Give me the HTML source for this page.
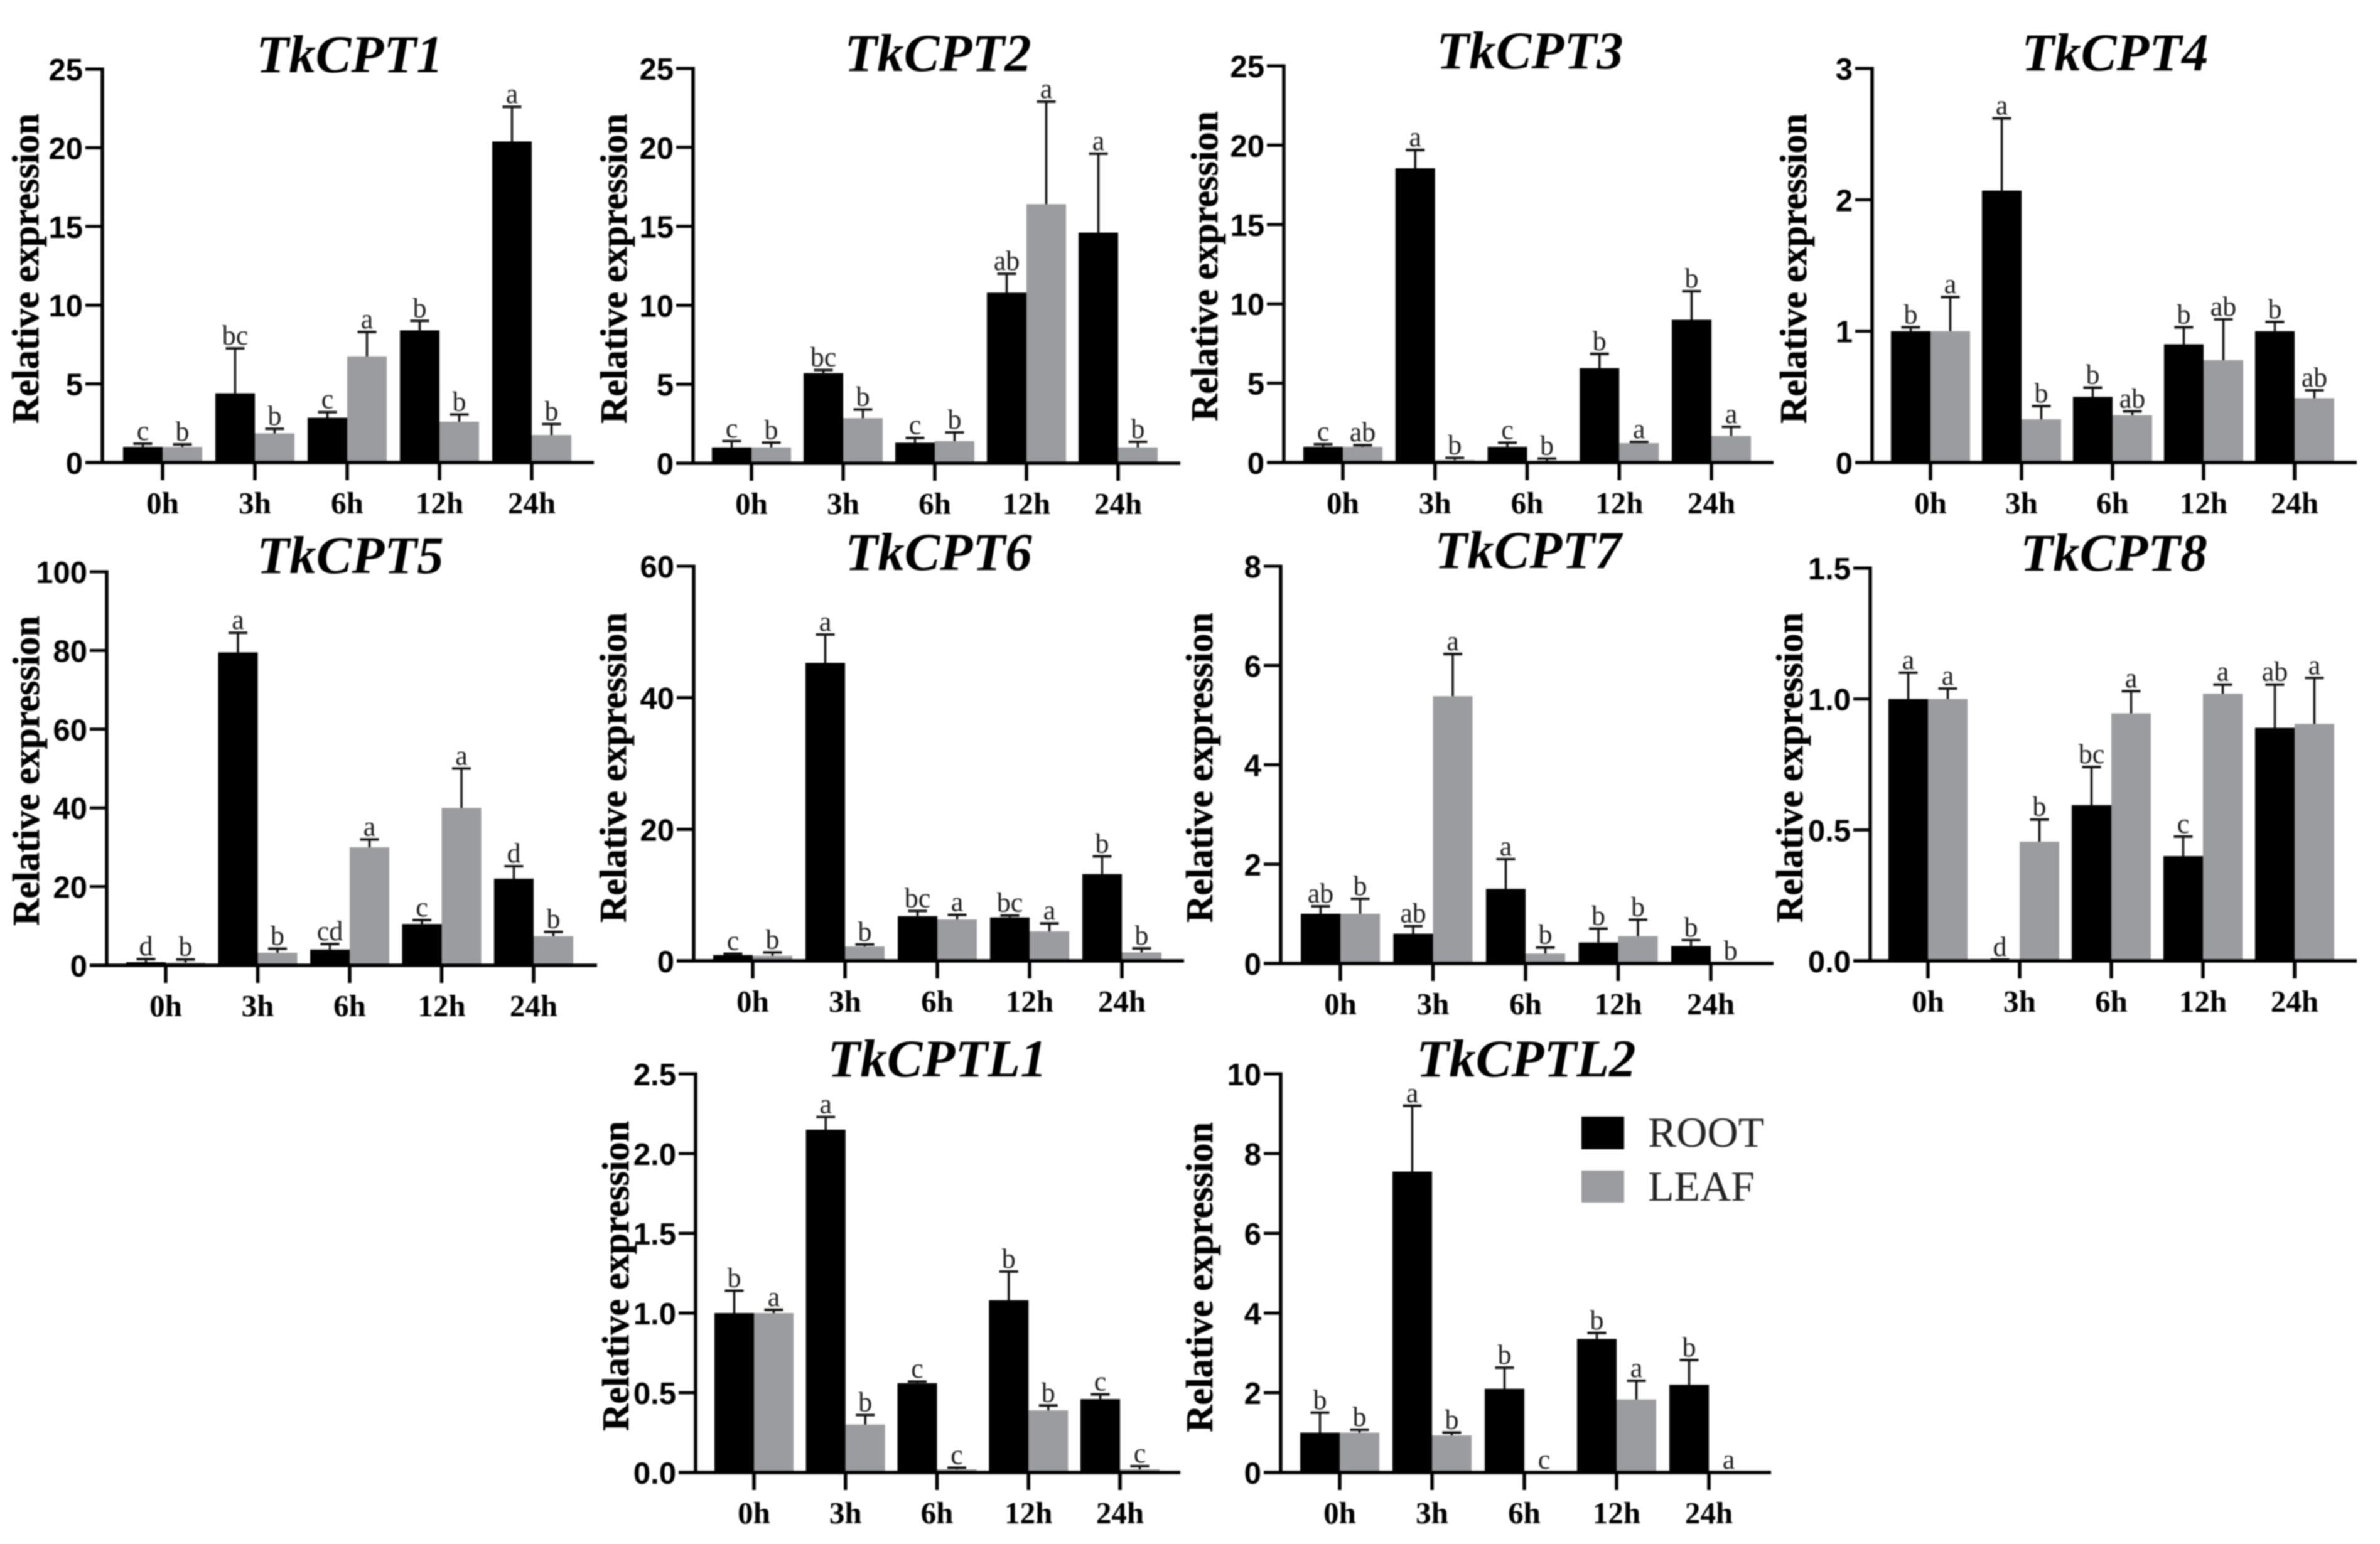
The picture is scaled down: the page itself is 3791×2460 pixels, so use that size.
<!DOCTYPE html>
<html lang="en">
<head>
<meta charset="utf-8">
<title>TkCPT relative expression</title>
<style>
  html, body { margin: 0; padding: 0; background: #fff; }
  #figure { display: block; width: 3791px; height: 2460px; filter: blur(1.1px); }
  .tick-y { font: bold 49px "Liberation Sans", sans-serif; text-anchor: end; fill: #000; }
  .tick-x { font: bold 49px "Liberation Serif", serif; text-anchor: middle; fill: #000; }
  .ytitle { font: bold 60px "Liberation Serif", serif; text-anchor: middle; fill: #000; stroke: #000; stroke-width: 0.6px; }
  .gtitle { font: italic bold 85px "Liberation Serif", serif; text-anchor: middle; fill: #000; }
  .sig { font: 44px "Liberation Serif", serif; text-anchor: middle; fill: #1c1c1c; }
  .legend-text { font: 68px "Liberation Serif", serif; fill: #222; }
</style>
</head>
<body>
<svg id="figure" xmlns="http://www.w3.org/2000/svg" width="3791" height="2460" viewBox="0 0 3791 2460">
  <rect x="0" y="0" width="3791" height="2460" fill="#fff"></rect>
  <g id="panels"></g>
  <g>
    <rect x="2519" y="1779" width="68" height="52" fill="#000"></rect>
    <text class="legend-text" x="2625" y="1827">ROOT</text>
    <rect x="2519" y="1865" width="68" height="51" fill="#9b9c9f"></rect>
    <text class="legend-text" x="2625" y="1913">LEAF</text>
  </g>
</svg>
<script>
// ---------- chart data ----------
const categories = ['0h', '3h', '6h', '12h', '24h'];
const genes = ['TkCPT1', 'TkCPT2', 'TkCPT3', 'TkCPT4', 'TkCPT5', 'TkCPT6', 'TkCPT7', 'TkCPT8', 'TkCPTL1', 'TkCPTL2'];
const yAxisTitle = 'Relative expression';

const tickLabels = [
  ['0', '5', '10', '15', '20', '25'],
  ['0', '5', '10', '15', '20', '25'],
  ['0', '5', '10', '15', '20', '25'],
  ['0', '1', '2', '3'],
  ['0', '20', '40', '60', '80', '100'],
  ['0', '20', '40', '60'],
  ['0', '2', '4', '6', '8'],
  ['0.0', '0.5', '1.0', '1.5'],
  ['0.0', '0.5', '1.0', '1.5', '2.0', '2.5'],
  ['0', '2', '4', '6', '8', '10']
];

const rootValues = [
  [1, 4.4, 2.85, 8.4, 20.4],
  [1, 5.7, 1.3, 10.8, 14.6],
  [1, 18.55, 1, 5.95, 9],
  [1, 2.07, 0.5, 0.9, 1],
  [0.8, 79.5, 4, 10.5, 22],
  [0.9, 45.3, 6.8, 6.6, 13.2],
  [1, 0.6, 1.5, 0.42, 0.35],
  [1, 0.005, 0.595, 0.4, 0.89],
  [1, 2.15, 0.56, 1.08, 0.46],
  [1, 7.55, 2.1, 3.35, 2.2]
];
const rootErrorTops = [
  [1.2, 7.25, 3.2, 9.0, 22.6],
  [1.4, 5.9, 1.6, 12, 19.6],
  [1.15, 19.7, 1.25, 6.85, 10.8],
  [1.03, 2.62, 0.57, 1.03, 1.07],
  [1.6, 84.5, 5.4, 11.5, 25.2],
  [1.1, 49.6, 7.6, 6.9, 15.9],
  [1.15, 0.75, 2.1, 0.7, 0.47],
  [1.1, 0.005, 0.74, 0.475, 1.055],
  [1.14, 2.23, 0.57, 1.26, 0.49],
  [1.5, 9.2, 2.63, 3.5, 2.82]
];
const leafValues = [
  [1, 1.85, 6.75, 2.6, 1.75],
  [1, 2.85, 1.4, 16.4, 1],
  [1, 0.15, 0.1, 1.22, 1.68],
  [1, 0.33, 0.36, 0.78, 0.49],
  [0.7, 3.2, 30, 40, 7.4],
  [0.8, 2.2, 6.3, 4.5, 1.3],
  [1, 5.38, 0.2, 0.55, 0],
  [1, 0.455, 0.945, 1.02, 0.905],
  [1, 0.3, 0.02, 0.39, 0.02],
  [1, 0.93, 0, 1.83, 0]
];
const leafErrorTops = [
  [1.15, 2.15, 8.3, 3.05, 2.45],
  [1.3, 3.4, 1.95, 22.9, 1.35],
  [1.1, 0.3, 0.25, 1.3, 2.25],
  [1.26, 0.43, 0.39, 1.09, 0.55],
  [1.5, 4.2, 32, 50, 8.5],
  [1.3, 2.5, 7, 5.7, 1.9],
  [1.3, 6.23, 0.32, 0.88, null],
  [1.04, 0.54, 1.03, 1.055, 1.08],
  [1.02, 0.36, 0.03, 0.42, 0.04],
  [1.07, 1, null, 2.3, null]
];
const rootLetters = [
  ['c', 'bc', 'c', 'b', 'a'],
  ['c', 'bc', 'c', 'ab', 'a'],
  ['c', 'a', 'c', 'b', 'b'],
  ['b', 'a', 'b', 'b', 'b'],
  ['d', 'a', 'cd', 'c', 'd'],
  ['c', 'a', 'bc', 'bc', 'b'],
  ['ab', 'ab', 'a', 'b', 'b'],
  ['a', 'd', 'bc', 'c', 'ab'],
  ['b', 'a', 'c', 'b', 'c'],
  ['b', 'a', 'b', 'b', 'b']
];
const leafLetters = [
  ['b', 'b', 'a', 'b', 'b'],
  ['b', 'b', 'b', 'a', 'b'],
  ['ab', 'b', 'b', 'a', 'a'],
  ['a', 'b', 'ab', 'ab', 'ab'],
  ['b', 'b', 'a', 'a', 'b'],
  ['b', 'b', 'a', 'a', 'b'],
  ['b', 'a', 'b', 'b', 'b'],
  ['a', 'b', 'a', 'a', 'a'],
  ['a', 'b', 'c', 'b', 'c'],
  ['b', 'b', 'c', 'a', 'a']
];

// ---------- panel frames (layout, not data) ----------
const frames = [
  { ax: 163,  top: 110, base: 737,  right: 946,  t0: 259,  t4: 847,  tx: 557,  ty: 115,  lx: 61,   ly: 428 },
  { ax: 1104, top: 109, base: 738,  right: 1880, t0: 1197, t4: 1781, tx: 1494, ty: 113,  lx: 998,  ly: 428 },
  { ax: 2045, top: 105, base: 737,  right: 2825, t0: 2139, t4: 2726, tx: 2437, ty: 109,  lx: 1939, ly: 424 },
  { ax: 2982, top: 109, base: 737,  right: 3754, t0: 3075, t4: 3655, tx: 3369, ty: 112,  lx: 2877, ly: 428 },
  { ax: 170,  top: 911, base: 1538, right: 951,  t0: 264,  t4: 850,  tx: 558,  ty: 913,  lx: 62,   ly: 1228 },
  { ax: 1105, top: 902, base: 1531, right: 1886, t0: 1199, t4: 1787, tx: 1495, ty: 908,  lx: 997,  ly: 1223 },
  { ax: 2040, top: 902, base: 1535, right: 2825, t0: 2135, t4: 2725, tx: 2434, ty: 905,  lx: 1931, ly: 1223 },
  { ax: 2979, top: 905, base: 1531, right: 3754, t0: 3071, t4: 3655, tx: 3367, ty: 909,  lx: 2871, ly: 1223 },
  { ax: 1108, top: 1711, base: 2346, right: 1880, t0: 1201, t4: 1784, tx: 1493, ty: 1715, lx: 1001, ly: 2033 },
  { ax: 2040, top: 1711, base: 2346, right: 2821, t0: 2134, t4: 2722, tx: 2431, ty: 1715, lx: 1931, ly: 2035 }
];
const BAR_W = 63, CAP_HALF = 15, TICK_LEN = 27;
const GRAY = '#9b9c9f';

const SVG_NS = 'http://www.w3.org/2000/svg';
function make(parent, tag, props, text) {
  const node = document.createElementNS(SVG_NS, tag);
  Object.keys(props).forEach(function (k) { node.setAttribute(k, props[k]); });
  if (text !== undefined) node.textContent = text;
  parent.appendChild(node);
  return node;
}

function drawBarSeries(g, idx, frame, yOf, tickOf, values, tops, letters, color, offset, series) {
  values.forEach(function (v, i) {
    const x = tickOf(i) + offset;
    const cx = x + BAR_W / 2;
    const yBar = yOf(v);
    if (v > 0) {
      const bar = make(g, 'rect', { x: x, y: yBar, width: BAR_W, height: frame.base - yBar, fill: color });
      
      
    }
    const top = tops[i];
    if (top !== null) {
      const yTop = yOf(top);
      const stem = make(g, 'line', { x1: cx, x2: cx, y1: yBar, y2: yTop, stroke: '#111', 'stroke-width': 3.5 });
      
      
      const cap = make(g, 'line', { x1: cx - CAP_HALF, x2: cx + CAP_HALF, y1: yTop, y2: yTop, stroke: '#111', 'stroke-width': 4 });
      
      
    }
    const anchor = top !== null ? yOf(top) : yBar;
    const sig = make(g, 'text', { class: 'sig', x: cx, y: anchor - 6 }, letters[i]);
    
    
  });
}

function drawPanel(idx) {
  const frame = frames[idx];
  const labels = tickLabels[idx];
  const yMax = parseFloat(labels[labels.length - 1]);
  const yOf = function (v) { return frame.base - (v / yMax) * (frame.base - frame.top); };
  const step = (frame.t4 - frame.t0) / (categories.length - 1);
  const tickOf = function (i) { return frame.t0 + i * step; };

  const g = make(document.getElementById('panels'), 'g', {});
  
  

  const title = make(g, 'text', { class: 'gtitle', x: frame.tx, y: frame.ty }, genes[idx]);
  
  

  const yTitle = make(g, 'text', { class: 'ytitle', x: 0, y: 0, transform: 'translate(' + frame.lx + ' ' + frame.ly + ') rotate(-90)' }, yAxisTitle);
  
  

  drawBarSeries(g, idx, frame, yOf, tickOf, rootValues[idx], rootErrorTops[idx], rootLetters[idx], '#000', -BAR_W, 'root');
  drawBarSeries(g, idx, frame, yOf, tickOf, leafValues[idx], leafErrorTops[idx], leafLetters[idx], GRAY, 0, 'leaf');

  const yAxis = make(g, 'line', { x1: frame.ax, x2: frame.ax, y1: frame.top - 2.5, y2: frame.base, stroke: '#000', 'stroke-width': 5.5 });
  
  

  const xAxis = make(g, 'line', { x1: frame.ax - TICK_LEN, x2: frame.right, y1: frame.base, y2: frame.base, stroke: '#000', 'stroke-width': 5.5 });
  
  

  labels.forEach(function (lab) {
    const yy = yOf(parseFloat(lab));
    const tick = make(g, 'line', { x1: frame.ax - TICK_LEN, x2: frame.ax, y1: yy, y2: yy, stroke: '#000', 'stroke-width': 5 });
    
    
    const tl = make(g, 'text', { class: 'tick-y', x: frame.ax - TICK_LEN - 4, y: yy + 18 }, lab);
    
    
  });

  categories.forEach(function (cat, i) {
    const xx = tickOf(i);
    const tick = make(g, 'line', { x1: xx, x2: xx, y1: frame.base, y2: frame.base + 28, stroke: '#000', 'stroke-width': 5.5 });
    
    
    const tl = make(g, 'text', { class: 'tick-x', x: xx, y: frame.base + 81 }, cat);
    
    
  });
}

genes.forEach(function (_, idx) { drawPanel(idx); });
</script>
</body>
</html>
